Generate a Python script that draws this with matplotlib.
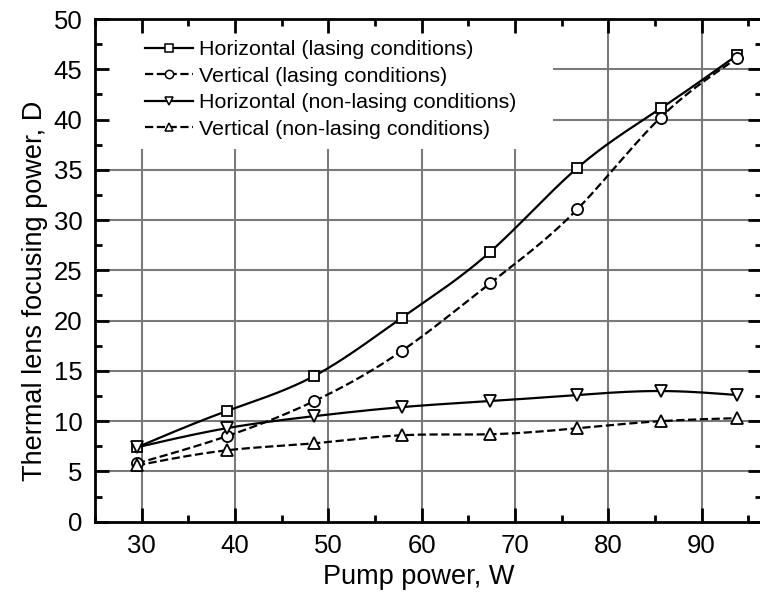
import numpy as np
import matplotlib
matplotlib.use('Agg')
import matplotlib.pyplot as plt
from matplotlib.ticker import MultipleLocator
from matplotlib.patches import Rectangle

plt.rcParams['font.family'] = ['Liberation Sans', 'DejaVu Sans']

pump = [29.5, 39.1, 48.5, 57.9, 67.3, 76.7, 85.6, 93.8]
horiz_lasing = [7.4, 11.0, 14.5, 20.3, 26.8, 35.2, 41.1, 46.4]
vert_lasing = [5.8, 8.5, 12.0, 17.0, 23.7, 31.1, 40.2, 46.1]
horiz_nonlasing = [7.4, 9.3, 10.5, 11.4, 12.0, 12.6, 13.0, 12.6]
vert_nonlasing = [5.6, 7.1, 7.8, 8.6, 8.7, 9.3, 10.0, 10.3]

labels = ["Horizontal (lasing conditions)", "Vertical (lasing conditions)",
          "Horizontal (non-lasing conditions)", "Vertical (non-lasing conditions)"]


def spline(x, y, n=300):
    # natural cubic spline, just for drawing the smooth connecting line
    x = np.asarray(x, float)
    y = np.asarray(y, float)
    h = np.diff(x)
    m = len(x)
    A = np.zeros((m, m))
    b = np.zeros(m)
    A[0, 0] = A[-1, -1] = 1
    for i in range(1, m - 1):
        A[i, i - 1] = h[i - 1]
        A[i, i] = 2 * (h[i - 1] + h[i])
        A[i, i + 1] = h[i]
        b[i] = 6 * ((y[i + 1] - y[i]) / h[i] - (y[i] - y[i - 1]) / h[i - 1])
    M = np.linalg.solve(A, b)
    xs = np.linspace(x[0], x[-1], n)
    k = np.clip(np.searchsorted(x, xs) - 1, 0, m - 2)
    t0 = x[k + 1] - xs
    t1 = xs - x[k]
    hk = h[k]
    ys = (M[k] * t0**3 + M[k + 1] * t1**3) / (6 * hk) \
        + (y[k] / hk - M[k] * hk / 6) * t0 + (y[k + 1] / hk - M[k + 1] * hk / 6) * t1
    return xs, ys


fig = plt.figure(figsize=(7.6, 5.94), dpi=100)
ax = fig.add_axes([0.125, 0.1217, 0.878, 0.8463])

ax.set_xlim(25, 96.5)
ax.set_ylim(0, 50)
ax.xaxis.set_major_locator(MultipleLocator(10))
ax.xaxis.set_minor_locator(MultipleLocator(5))
ax.yaxis.set_major_locator(MultipleLocator(5))
ax.yaxis.set_minor_locator(MultipleLocator(2.5))

# grid drawn by hand so the legend's white box can sit over it, under the ticks
for v in ax.get_xticks():
    if 25 < v < 96.5:
        ax.axvline(v, color='#7a7a7a', lw=1.5, zorder=1)
for v in ax.get_yticks():
    if 0 < v < 50:
        ax.axhline(v, color='#7a7a7a', lw=1.5, zorder=1)
ax.add_patch(Rectangle((0, 0.742), 0.687, 0.258, transform=ax.transAxes,
                       facecolor='white', edgecolor='none', zorder=1.5))
ax.xaxis.set_zorder(2.5)
ax.yaxis.set_zorder(2.5)

series = [(horiz_lasing, 's', '-', 7), (vert_lasing, 'o', '--', 8),
          (horiz_nonlasing, 'v', '-', 8.5), (vert_nonlasing, '^', '--', 8.5)]
handles = []
for (vals, mk, ls, ms), lab in zip(series, labels):
    xs, ys = spline(pump, vals)
    ax.plot(xs, ys, color='black', ls=ls, lw=1.6, zorder=3)
    ax.plot(pump, vals, ls='none', marker=mk, ms=ms, mfc='white', mec='black', mew=1.3, zorder=4)
    h, = ax.plot([], [], color='black', ls=ls, lw=1.6, marker=mk, ms=ms * 0.75,
                 mfc='white', mec='black', mew=1.1, label=lab)
    handles.append(h)

ax.tick_params(which='both', direction='in', top=True, right=True, width=2)
ax.tick_params(which='major', length=10, labelsize=18.5, pad=9)
ax.tick_params(which='minor', length=5)
for s in ax.spines.values():
    s.set_linewidth(2)

ax.set_xlabel("Pump power, W", fontsize=19.5)
ax.xaxis.set_label_coords(0.485, -0.084)
ax.set_ylabel("Thermal lens focusing power, D", fontsize=19.5)
ax.yaxis.set_label_coords(-0.07, 0.46)

ax.legend(handles=handles, loc='upper left', bbox_to_anchor=(0.052, 0.988), frameon=False,
          fontsize=15.4, handlelength=2.25, handletextpad=0.3, labelspacing=0.355,
          borderaxespad=0.3)

fig.savefig('out.png', dpi=100)
